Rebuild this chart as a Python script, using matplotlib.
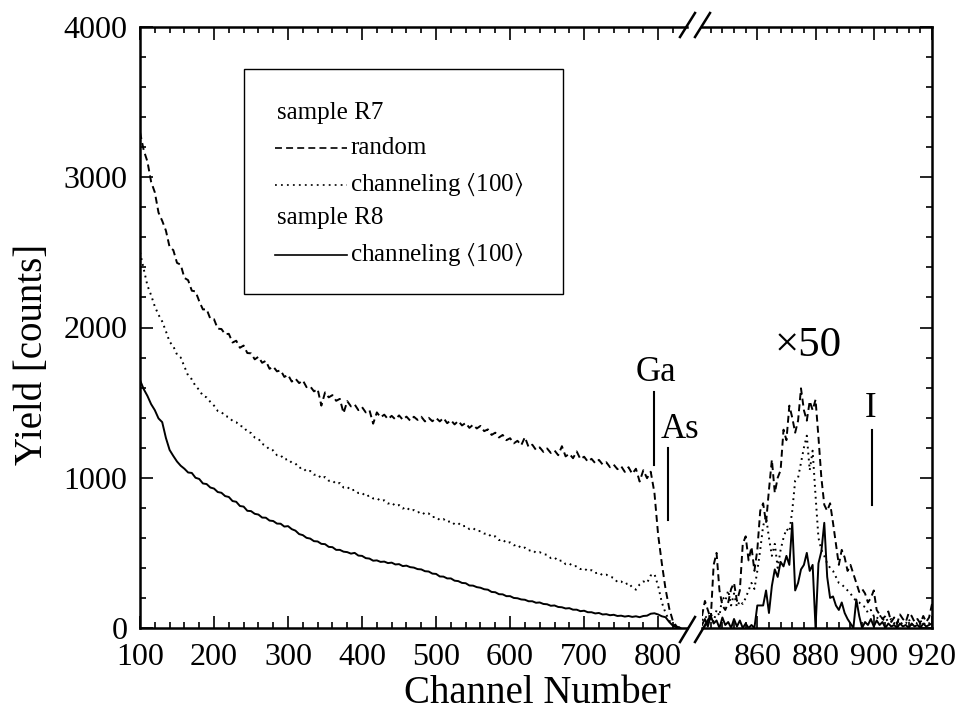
import matplotlib
matplotlib.use('Agg')
import matplotlib.pyplot as plt
from matplotlib.ticker import MultipleLocator
from matplotlib.lines import Line2D
from matplotlib.patches import Rectangle

plt.rcParams['font.family'] = ['Liberation Serif', 'DejaVu Serif']
plt.rcParams['mathtext.fontset'] = 'stix'
plt.rcParams['lines.scale_dashes'] = False

# ---------------- data ----------------
# left segment: channels 100..830, every 5 channels
channels_left = list(range(100, 831, 5))
random_R7_left = [
    3300, 3180, 3105, 2970, 2900, 2765, 2710, 2645, 2535, 2515,
    2430, 2418, 2330, 2315, 2245, 2240, 2175, 2120, 2122, 2058,
    2055, 1992, 1990, 1955, 1958, 1900, 1912, 1865, 1880, 1830,
    1828, 1788, 1805, 1765, 1778, 1725, 1740, 1708, 1715, 1671,
    1685, 1640, 1660, 1630, 1648, 1603, 1608, 1575, 1590, 1480,
    1568, 1535, 1550, 1512, 1525, 1430, 1510, 1475, 1488, 1450,
    1470, 1435, 1450, 1360, 1435, 1402, 1420, 1390, 1412, 1388,
    1415, 1386, 1407, 1380, 1406, 1385, 1406, 1375, 1399, 1376,
    1398, 1375, 1398, 1363, 1383, 1355, 1378, 1348, 1365, 1332,
    1353, 1328, 1345, 1310, 1322, 1285, 1300, 1268, 1285, 1250,
    1263, 1229, 1246, 1216, 1270, 1204, 1220, 1185, 1202, 1172,
    1195, 1165, 1182, 1150, 1210, 1142, 1160, 1130, 1175, 1124,
    1140, 1107, 1126, 1097, 1119, 1088, 1103, 1070, 1087, 1057,
    1077, 1039, 1070, 1026, 1060, 975, 1050, 997, 1040, 900,
    620, 430, 260, 130, 45, 10, 0]
chan_R7_left = [
    2500, 2390, 2280, 2215, 2140, 2085, 2040, 1975, 1905, 1875,
    1820, 1800, 1740, 1680, 1655, 1610, 1585, 1545, 1535, 1505,
    1480, 1445, 1438, 1410, 1405, 1378, 1370, 1345, 1340, 1305,
    1298, 1268, 1260, 1225, 1215, 1185, 1182, 1150, 1150, 1120,
    1125, 1100, 1095, 1065, 1068, 1040, 1045, 1020, 1022, 995,
    1005, 980, 982, 958, 965, 935, 940, 915, 920, 898,
    900, 875, 882, 862, 865, 845, 850, 828, 835, 812,
    818, 795, 805, 780, 785, 768, 776, 755, 762, 738,
    740, 718, 725, 705, 712, 690, 698, 676, 680, 658,
    665, 645, 645, 628, 630, 605, 610, 585, 590, 565,
    570, 550, 555, 530, 535, 515, 520, 500, 505, 490,
    488, 465, 470, 445, 450, 425, 430, 410, 412, 392,
    398, 378, 385, 365, 370, 350, 355, 340, 335, 305,
    310, 290, 300, 270, 255, 290, 310, 300, 350, 360,
    280, 170, 100, 50, 25, 10, 0]
chan_R8_left = [
    1650, 1590, 1545, 1490, 1450, 1395, 1370, 1265, 1185, 1145,
    1108, 1080, 1060, 1035, 1032, 1000, 992, 962, 958, 935,
    928, 905, 900, 878, 872, 845, 840, 812, 808, 780,
    778, 760, 755, 735, 734, 715, 712, 695, 694, 675,
    678, 658, 648, 625, 618, 600, 595, 578, 576, 560,
    558, 540, 538, 520, 520, 508, 505, 495, 500, 482,
    480, 465, 462, 448, 450, 440, 442, 432, 435, 423,
    425, 412, 415, 405, 402, 392, 390, 378, 376, 362,
    360, 343, 342, 330, 330, 315, 312, 300, 298, 283,
    282, 272, 268, 258, 255, 240, 238, 225, 224, 212,
    212, 200, 198, 190, 188, 178, 178, 168, 170, 160,
    158, 148, 150, 140, 138, 130, 132, 122, 122, 112,
    115, 105, 105, 97, 100, 90, 92, 85, 88, 80,
    82, 76, 80, 74, 78, 72, 80, 82, 95, 98,
    90, 78, 72, 40, 15, 5, 0]

# right segment (x50): channels 841..920, every channel
channels_right = list(range(841, 921))
random_R7_right = [
    80, 180, 120, 60, 420, 500, 250, 150, 120, 170,
    260, 300, 180, 250, 560, 610, 450, 540, 380, 520,
    780, 830, 700, 920, 1120, 900, 1000, 1050, 1320, 1250,
    1480, 1400, 1300, 1380, 1595, 1450, 1380, 1510, 1450, 1520,
    1270, 1000, 820, 780, 830, 700, 560, 420, 520, 470,
    380, 420, 360, 300, 240, 260, 230, 170, 200, 250,
    120, 90, 60, 80, 110, 40, 70, 30, 90, 60,
    40, 100, 80, 40, 60, 30, 80, 40, 70, 160]
chan_R7_right = [
    50, 80, 60, 100, 40, 120, 80, 210, 180, 250,
    150, 230, 140, 180, 160, 200, 250, 300, 260, 380,
    520, 680, 740, 600, 480, 560, 400, 520, 600, 660,
    640, 780, 980, 1000, 1100, 1200, 1280, 1050, 1180, 880,
    600, 520, 480, 430, 400, 380, 340, 300, 290, 270,
    250, 230, 200, 180, 170, 150, 140, 100, 120, 80,
    60, 90, 50, 70, 40, 60, 30, 50, 20, 40,
    30, 60, 20, 40, 30, 50, 20, 40, 30, 60]
chan_R8_right = [
    20, 60, 10, 80, 30, 50, 0, 70, 20, 40,
    0, 60, 10, 50, 0, 30, 0, 20, 0, 150,
    150, 150, 250, 100, 280, 390, 340, 440, 410, 480,
    420, 700, 250, 300, 390, 420, 500, 380, 420, 0,
    430, 510, 700, 340, 200, 210, 150, 120, 170, 100,
    60, 30, 0, 190, 80, 0, 40, 20, 60, 10,
    50, 20, 40, 0, 30, 10, 20, 0, 30, 10,
    20, 0, 30, 10, 20, 0, 30, 10, 20, 30]

left_xticks = [100, 200, 300, 400, 500, 600, 700, 800]
right_xticks = [860, 880, 900, 920]
yticks = [0, 1000, 2000, 3000, 4000]

# element labels (data coords) and their marker lines
ga_text = (797, 1700)
ga_line = (795, 1085, 1571)
as_text = (830, 1320)
as_line = (813.5, 719, 1198)
i_text = (899, 1464)
i_line = (899.3, 819, 1318)
x50_text = (877.4, 1880)

# ---------------- figure ----------------
W, H = 958, 726
fig = plt.figure(figsize=(W / 100, H / 100), dpi=100)


def fx(px):
    return px / W


def fy(py):
    return 1 - py / H


axL = fig.add_axes([fx(140), fy(628), 547 / W, 601 / H])
axR = fig.add_axes([fx(702), fy(628), 230 / W, 601 / H])

DASH = (0, (5, 3))
DOT = (0, (1.3, 3.0))
LW = 1.4

axL.plot(channels_left, random_R7_left, color='k', lw=LW, linestyle=DASH)
axL.plot(channels_left, chan_R7_left, color='k', lw=LW, linestyle=DOT)
axL.plot(channels_left, chan_R8_left, color='k', lw=LW, linestyle='-')
axR.plot(channels_right, random_R7_right, color='k', lw=LW, linestyle=DASH)
axR.plot(channels_right, chan_R7_right, color='k', lw=LW, linestyle=DOT)
axR.plot(channels_right, chan_R8_right, color='k', lw=LW, linestyle='-')

axL.set_xlim(100, 839)
axR.set_xlim(841, 920)
for ax in (axL, axR):
    ax.set_ylim(0, 4000)
    ax.yaxis.set_major_locator(MultipleLocator(1000))
    ax.yaxis.set_minor_locator(MultipleLocator(200))
    for s in ax.spines.values():
        s.set_linewidth(1.8)
    ax.tick_params(which='both', direction='in', width=1.2, labelsize=23,
                   top=True)
    ax.tick_params(axis='x', pad=11)
    ax.tick_params(which='major', length=9)
    ax.tick_params(which='minor', length=4.5)

axL.xaxis.set_major_locator(MultipleLocator(100))
axL.xaxis.set_minor_locator(MultipleLocator(20))
axL.set_xticks(left_xticks)
axL.set_yticks(yticks)
axL.spines['right'].set_visible(False)
axL.tick_params(which='both', right=False)
axL.tick_params(axis='y', pad=9)

axR.set_xticks(right_xticks)
axR.xaxis.set_minor_locator(MultipleLocator(4))
axR.spines['left'].set_visible(False)
axR.tick_params(which='both', left=False, right=True, labelleft=False)

# axis labels
fig.text(fx(537), fy(703), 'Channel Number', ha='center', va='baseline', fontsize=28)
fig.text(fx(42), fy(354), 'Yield [counts]', ha='center', va='baseline', fontsize=28,
         rotation=90, rotation_mode='anchor')

# axis break marks
for (x0, x1) in [(680, 695), (695, 710)]:
    fig.add_artist(Line2D([fx(x0), fx(x1)], [fy(37), fy(13)], color='k', lw=1.8,
                          transform=fig.transFigure))
    fig.add_artist(Line2D([fx(x0), fx(x1)], [fy(642), fy(617)], color='k', lw=1.8,
                          transform=fig.transFigure))

# element markers
axL.text(*ga_text, 'Ga', fontsize=25, ha='center', va='center')
axL.plot([ga_line[0]] * 2, ga_line[1:], color='k', lw=1.5)
axL.text(*as_text, 'As', fontsize=25, ha='center', va='center', clip_on=False)
axL.plot([as_line[0]] * 2, as_line[1:], color='k', lw=1.5)
axR.text(*i_text, 'I', fontsize=25, ha='center', va='center')
axR.plot([i_line[0]] * 2, i_line[1:], color='k', lw=1.5)
axR.text(*x50_text, '×50', fontsize=31, ha='center', va='center')

# legend (drawn by hand in axes fraction coordinates)
T = axL.transAxes
axL.add_patch(Rectangle((0.190, 0.556), 0.583, 0.374, transform=T, fill=True,
                        facecolor='white', edgecolor='k', lw=1.0, zorder=4))
rows = [0.857, 0.799, 0.737, 0.682, 0.621]
lfs = 18
axL.text(0.250, rows[0], 'sample R7', transform=T, fontsize=lfs, va='center', zorder=5)
axL.add_line(Line2D([0.247, 0.378], [rows[1]] * 2, transform=T, color='k', lw=1.2,
                    linestyle=DASH, zorder=5))
axL.text(0.384, rows[1], 'random', transform=T, fontsize=lfs, va='center', zorder=5)
axL.add_line(Line2D([0.247, 0.378], [rows[2]] * 2, transform=T, color='k', lw=1.2,
                    linestyle=DOT, zorder=5))
axL.text(0.384, rows[2], r'channeling $\langle$100$\rangle$', transform=T,
         fontsize=lfs, va='center', zorder=5)
axL.text(0.250, rows[3], 'sample R8', transform=T, fontsize=lfs, va='center', zorder=5)
axL.add_line(Line2D([0.247, 0.378], [rows[4]] * 2, transform=T, color='k', lw=1.2,
                    linestyle='-', zorder=5))
axL.text(0.384, rows[4], r'channeling $\langle$100$\rangle$', transform=T,
         fontsize=lfs, va='center', zorder=5)

fig.savefig('out.png', dpi=100)
